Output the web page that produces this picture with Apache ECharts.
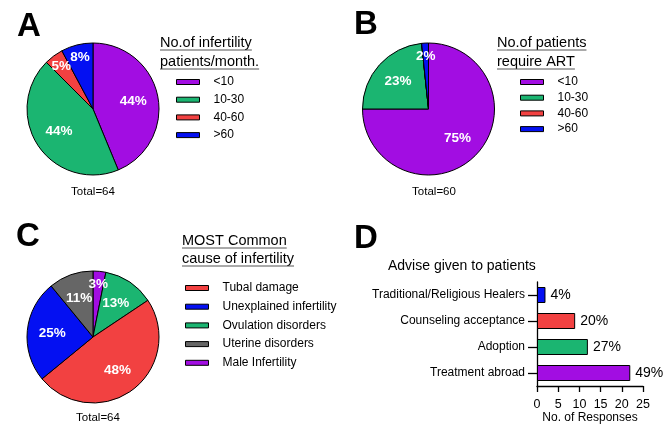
<!DOCTYPE html>
<html><head><meta charset="utf-8">
<script src="https://cdn.jsdelivr.net/npm/echarts@6/dist/echarts.min.js"></script>
<style>html,body{margin:0;padding:0;background:#fff}#c{width:669px;height:431px}</style>
</head><body><div id="c"></div>
<script>
const FONT = 'Liberation Sans';
// Panel A / B categories
const catsAB = ['<10', '10-30', '40-60', '>60'];
const valsA = [28, 28, 3, 5];       // Total = 64
const valsB = [45, 14, 0, 1];       // Total = 60
// Panel C (pie order clockwise from top)
const catsC = ['Male Infertility', 'Ovulation disorders', 'Tubal damage', 'Unexplained infertility', 'Uterine disorders'];
const valsC = [2, 8, 31, 16, 7];    // Total = 64
const legendC = ['Tubal damage', 'Unexplained infertility', 'Ovulation disorders', 'Uterine disorders', 'Male Infertility'];
// Panel D
const catsD = ['Traditional/Religious Healers', 'Counseling acceptance', 'Adoption', 'Treatment abroad'];
const valsD = [2, 9, 12, 22];
const ticksD = [0, 5, 10, 15, 20, 25];

const PURPLE = '#A20DE2', GREEN = '#1BB571', RED = '#F24141', BLUE = '#0410F2', GRAY = '#666666';
const colorAB = [PURPLE, GREEN, RED, BLUE];
const colorMapC = {'Tubal damage': RED, 'Unexplained infertility': BLUE, 'Ovulation disorders': GREEN, 'Uterine disorders': GRAY, 'Male Infertility': PURPLE};
const colorD = [BLUE, RED, GREEN, PURPLE];

const R = 66;
function pieSeries(cx, cy, names, vals, colors) {
  const total = vals.reduce((a, b) => a + b, 0);
  const main = {
    type: 'pie', center: [cx, cy], radius: [0, R], startAngle: 90, clockwise: true,
    silent: true, avoidLabelOverlap: false, label: {show: false}, labelLine: {show: false},
    itemStyle: {borderColor: '#000', borderWidth: 1},
    data: names.map((n, i) => ({name: n, value: vals[i], itemStyle: {color: colors[i]}}))
  };
  const mk = (k, small) => ({
    type: 'pie', center: [cx, cy], radius: [0, R * k], startAngle: 90, clockwise: true,
    silent: true, avoidLabelOverlap: false, labelLine: {show: false},
    labelLayout: {hideOverlap: false},
    itemStyle: {color: 'rgba(0,0,0,0)', borderWidth: 0},
    label: {position: 'inside', color: '#fff', fontWeight: 'bold', fontSize: 13.5, fontFamily: FONT},
    data: vals.map((v, i) => {
      const p = v / total * 100;
      const show = v > 0 && (small ? p < 10 : p >= 10);
      return {name: 'lbl' + i, value: v, label: {show: show, formatter: Math.round(p) + '%'}};
    })
  });
  return [main, mk(1.15, false), mk(1.52, true)];
}

function legendCfg(names, left, top, pitch) {
  return {
    orient: 'vertical', left: left, top: top, padding: 0, data: names, icon: 'rect',
    itemWidth: 23, itemHeight: 5, itemGap: pitch - 14, selectedMode: false,
    itemStyle: {borderColor: '#000', borderWidth: 1},
    textStyle: {fontSize: 12, fontFamily: FONT, color: '#000', lineHeight: 14, padding: [0, 0, 0, 9]}
  };
}

const ctx = document.createElement('canvas').getContext('2d');
function txt(s, x, y, size, opts) {
  opts = opts || {};
  const font = (opts.bold ? 'bold ' : '') + size + 'px "' + FONT + '"';
  return {type: 'text', x: x, y: y, silent: true,
    style: {text: s, font: font, fill: '#000', align: opts.align || 'left', verticalAlign: 'middle'}};
}
function underlined(s, x, y, size) {
  const font = size + 'px "' + FONT + '"';
  ctx.font = font;
  const w = ctx.measureText(s).width;
  return [txt(s, x, y, size),
    {type: 'line', silent: true, shape: {x1: x, y1: y + 7, x2: x + w, y2: y + 7}, style: {stroke: '#555', lineWidth: 1}}];
}

const totA = valsA.reduce((a, b) => a + b, 0);
const totB = valsB.reduce((a, b) => a + b, 0);
const totC = valsC.reduce((a, b) => a + b, 0);
const totD = valsD.reduce((a, b) => a + b, 0);

const graphics = [
  txt('A', 17, 27, 33, {bold: true}),
  txt('B', 354, 25, 33, {bold: true}),
  txt('C', 16, 237, 33, {bold: true}),
  txt('D', 354, 239, 33, {bold: true}),
  ...underlined('No.of infertility', 160, 43, 14.5),
  ...underlined('patients/month.', 160, 62, 14.5),
  ...underlined('No.of patients', 497, 43, 14.5),
  ...underlined('require ART', 497, 62, 14.5),
  ...underlined('MOST Common', 182, 241, 14.5),
  ...underlined('cause of infertility', 182, 259, 14.5),
  txt('Total=' + totA, 93, 192, 11.5, {align: 'center'}),
  txt('Total=' + totB, 434, 192, 11.5, {align: 'center'}),
  txt('Total=' + totC, 98, 418, 11.5, {align: 'center'}),
  txt('Advise given to patients', 388, 266, 14)
];

const chart = echarts.init(document.getElementById('c'), null, {renderer: 'canvas'});
chart.setOption({
  backgroundColor: '#fff',
  animation: false,
  textStyle: {fontFamily: FONT},
  legend: [
    legendCfg(catsAB, 176, 75, 17.7),
    legendCfg(catsAB, 520, 75, 15.7),
    legendCfg(legendC, 185, 281, 18.7)
  ],
  grid: {left: 537, right: 26, top: 282, bottom: 45, containLabel: false},
  xAxis: {
    type: 'value', min: ticksD[0], max: ticksD[ticksD.length - 1], interval: ticksD[1] - ticksD[0],
    axisLine: {show: true, lineStyle: {color: '#000', width: 1.3}},
    axisTick: {show: true, length: 6, lineStyle: {color: '#000', width: 1.3}},
    splitLine: {show: false},
    axisLabel: {fontSize: 12.5, color: '#000', margin: 12, fontFamily: FONT},
    name: 'No. of Responses', nameLocation: 'middle', nameGap: 20,
    nameTextStyle: {fontSize: 12, color: '#000', fontFamily: FONT}
  },
  yAxis: {
    type: 'category', data: catsD, inverse: true,
    axisLine: {show: true, lineStyle: {color: '#000', width: 1.3}},
    axisTick: {show: true, alignWithLabel: true, length: 9, lineStyle: {color: '#000', width: 1.3}},
    axisLabel: {fontSize: 12, color: '#000', margin: 12, fontFamily: FONT}
  },
  series: [
    ...pieSeries(93, 109, catsAB, valsA, colorAB),
    ...pieSeries(428.5, 109, catsAB, valsB, colorAB),
    ...pieSeries(93, 337, catsC, valsC, catsC.map(n => colorMapC[n])),
    {
      type: 'bar', barWidth: 16, silent: true,
      data: valsD.map((v, i) => ({value: v, itemStyle: {color: colorD[i], borderColor: '#000', borderWidth: 1}})),
      label: {show: true, position: 'right', distance: 5, fontSize: 14, color: '#000', fontFamily: FONT,
        formatter: p => Math.round(p.value / totD * 100) + '%'}
    }
  ],
  graphic: graphics
});
</script>
</body></html>
